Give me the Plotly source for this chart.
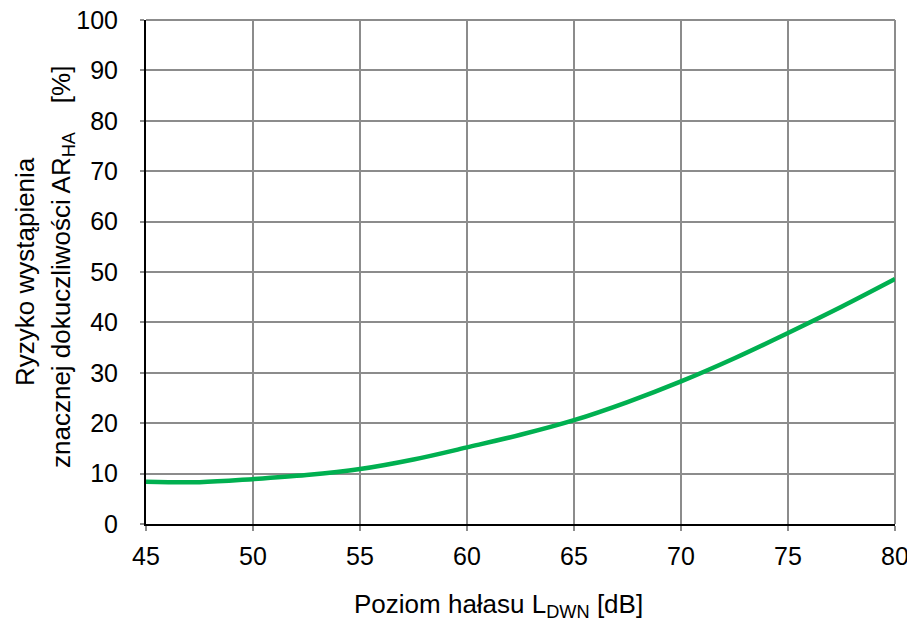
import plotly.graph_objects as go

# Values
noise_level_db = [45, 47.5, 50, 52.5, 55, 57.5, 60, 62.5, 65, 67.5, 70, 72.5, 75, 77.5, 80]
risk_pct = [8.4, 8.3, 8.9, 9.7, 10.9, 12.8, 15.2, 17.7, 20.6, 24.2, 28.3, 32.9, 37.9, 43.1, 48.6]

x_ticks = [45, 50, 55, 60, 65, 70, 75, 80]
y_ticks = [0, 10, 20, 30, 40, 50, 60, 70, 80, 90, 100]

W, H = 915, 631
O = 8  # default page margin of the html body
# desired plot area in page pixels
PL, PR, PT, PB = 146, 895, 20, 524
ML, MT = PL - O, PT - O
MR = (W + O) - PR
MB = (H + O) - PB
PW, PH = PR - PL, PB - PT


def px_x(x):
    return (x - PL) / PW


def px_y(y):
    return (PB - y) / PH


fig = go.Figure()
fig.add_trace(go.Scatter(
    x=noise_level_db, y=risk_pct, mode="lines",
    line=dict(color="#00B050", width=4.5, shape="spline", smoothing=1.0),
    hoverinfo="x+y", showlegend=False,
))

fam = "Liberation Sans, Arial, sans-serif"
tick_font = dict(family=fam, size=25, color="#000000")
title_font = dict(family=fam, size=26, color="#000000")
grid = "#8c8c8c"

fig.update_layout(
    width=W, height=H,
    margin=dict(l=ML, r=MR, t=MT, b=MB, autoexpand=False),
    paper_bgcolor="white", plot_bgcolor="white",
    font=tick_font,
    showlegend=False,
    xaxis=dict(
        range=[45, 80], tickmode="array", tickvals=x_ticks,
        showgrid=True, gridcolor=grid, gridwidth=1.5,
        showline=True, linecolor="black", linewidth=2,
        ticks="outside", ticklen=5, tickcolor=grid, tickwidth=1.5,
        ticklabelstandoff=4, automargin=False, ticklabeloverflow="allow",
        zeroline=False, tickfont=tick_font,
    ),
    yaxis=dict(
        range=[0, 100], tickmode="array", tickvals=y_ticks,
        showgrid=True, gridcolor=grid, gridwidth=1.5,
        showline=True, linecolor="black", linewidth=2,
        ticks="outside", ticklen=4, tickcolor=grid, tickwidth=1.5,
        ticklabelstandoff=17, automargin=False, ticklabeloverflow="allow",
        zeroline=False, tickfont=tick_font,
    ),
    shapes=[
        # top frame gridline (at y = 100) and right frame gridline (at x = 80)
        dict(type="line", xref="paper", yref="paper", x0=0, x1=1, y0=1, y1=1,
             line=dict(color=grid, width=2), layer="below"),
        dict(type="line", xref="paper", yref="paper", x0=1, x1=1, y0=0, y1=1,
             line=dict(color=grid, width=2), layer="below"),
    ],
    annotations=[
        dict(text="Poziom hałasu L<sub>DWN</sub> [dB]", xref="paper", yref="paper",
             x=px_x(498), y=px_y(605),
             xanchor="center", yanchor="middle", showarrow=False, font=title_font),
        dict(text="Ryzyko wystąpienia", xref="paper", yref="paper",
             x=px_x(25), y=px_y(272), textangle=-90,
             xanchor="center", yanchor="middle", showarrow=False, font=title_font),
        dict(text="znacznej dokuczliwości AR<sub>HA</sub>&nbsp;&nbsp;&nbsp;&nbsp;[%]",
             xref="paper", yref="paper",
             x=px_x(62), y=px_y(267), textangle=-90,
             xanchor="center", yanchor="middle", showarrow=False, font=title_font),
    ],
)

fig.write_html("out.html")
